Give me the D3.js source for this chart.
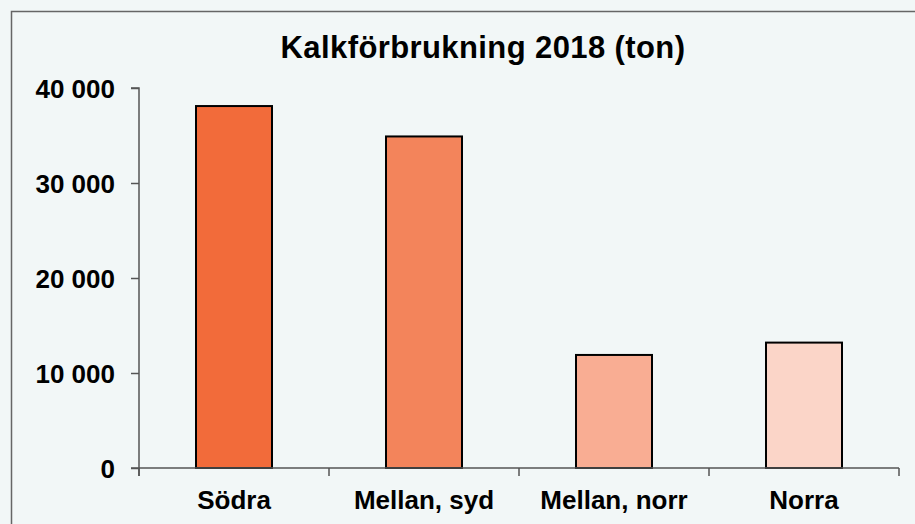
<!DOCTYPE html>
<html>
  <head>
    <script src="https://cdnjs.cloudflare.com/ajax/libs/d3/7.8.5/d3.min.js"></script>
    <style>
      body {
        margin: 0;
        overflow: hidden;
        background: #f2f7f7;
      }
      text {
        font-family: "Liberation Sans", Arial, sans-serif;
        font-weight: bold;
        fill: #000;
      }
    </style>
  </head>
  <body>
    <div id="chart"></div>
    <script>
      // データ
      const categories = ["Södra", "Mellan, syd", "Mellan, norr", "Norra"];
      const values = [38100, 34900, 11900, 13200];
      const yTicks = [0, 10000, 20000, 30000, 40000];
      const colors = ["#f26b3a", "#f3845b", "#f9ad93", "#fbd5c8"];
      const title = "Kalkförbrukning 2018 (ton)";

      const width = 915;
      const height = 524;
      const margin = { left: 139, right: 16, top: 88, bottom: 56 };

      const svg = d3
        .select("#chart")
        .append("svg")
        .attr("width", width)
        .attr("height", height);

      // 外枠
      svg
        .append("rect")
        .attr("x", 11.5)
        .attr("y", 11.5)
        .attr("width", width + 20)
        .attr("height", height + 20)
        .attr("fill", "#f2f7f7")
        .attr("stroke", "#666")
        .attr("stroke-width", 1.5);

      const x = d3
        .scaleBand()
        .domain(categories)
        .range([margin.left, width - margin.right])
        .paddingInner(0.6)
        .paddingOuter(0.3);

      const y = d3
        .scaleLinear()
        .domain([0, 40000])
        .range([height - margin.bottom, margin.top]);

      // タイトル
      svg
        .append("text")
        .attr("x", 483)
        .attr("y", 58)
        .attr("text-anchor", "middle")
        .style("font-size", "31px")
        .style("letter-spacing", "0.4px")
        .text(title);

      // 棒
      svg
        .selectAll(".bar")
        .data(values)
        .enter()
        .append("rect")
        .attr("class", "bar")
        .attr("x", (d, i) => x(categories[i]))
        .attr("y", (d) => y(d))
        .attr("width", x.bandwidth())
        .attr("height", (d) => y(0) - y(d))
        .attr("fill", (d, i) => colors[i])
        .attr("stroke", "#000")
        .attr("stroke-width", 2);

      // Y軸
      const yAxis = svg
        .append("g")
        .attr("transform", `translate(${margin.left},0)`)
        .call(
          d3
            .axisLeft(y)
            .tickValues(yTicks)
            .tickSize(8)
            .tickPadding(16)
            .tickFormat((d) => d3.format(",")(d).replace(/,/g, " "))
        );
      yAxis.select(".domain").attr("d", `M-8,${y(40000)}H0V${y(0) + 8}`);
      yAxis.selectAll("text").style("font-size", "26px").attr("dy", "0.36em");

      // X軸
      const xAxis = svg
        .append("g")
        .attr("transform", `translate(0,${y(0)})`)
        .call(d3.axisBottom(x).tickSize(0).tickPadding(23));
      xAxis.select(".domain").attr("d", `M${margin.left - 8},0H${width - margin.right}`);
      xAxis.selectAll("text").style("font-size", "26px");

      // カテゴリ境界の目盛り
      const step = x.step();
      const bounds = d3.range(categories.length + 1).map((i) => margin.left + i * step);
      xAxis
        .selectAll(".bound")
        .data(bounds)
        .enter()
        .append("line")
        .attr("class", "bound")
        .attr("x1", (d) => d)
        .attr("x2", (d) => d)
        .attr("y1", 0)
        .attr("y2", 8);

      svg.selectAll(".domain, .tick line, .bound").attr("stroke", "#555").attr("stroke-width", 1.5);
    </script>
  </body>
</html>
